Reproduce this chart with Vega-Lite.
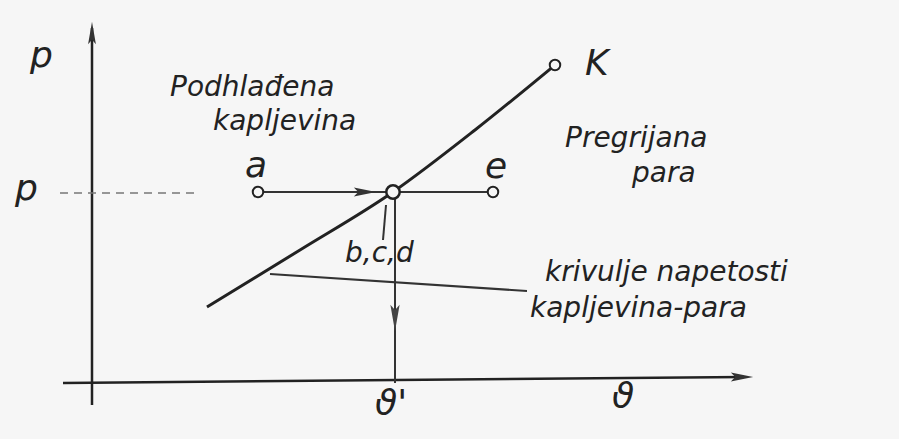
{
  "$schema": "https://vega.github.io/schema/vega-lite/v6.json",
  "width": 899,
  "height": 439,
  "autosize": {"type": "fit", "contains": "padding"},
  "padding": 0,
  "background": "#f6f6f6",
  "config": {"view": {"stroke": null}},
  "datasets": {
    "axes": [
      {"x": 0, "y": -22, "x2": 0, "y2": 355},
      {"x": -29, "y": 0, "x2": 652, "y2": 6}
    ],
    "segments": [
      {"x": 166, "y": 191, "x2": 401, "y2": 191},
      {"x": 303, "y": 191, "x2": 303, "y2": 0},
      {"x": 294, "y": 178, "x2": 291, "y2": 143},
      {"x": 178, "y": 109, "x2": 435, "y2": 92}
    ],
    "dashed": [
      {"x": -32, "y": 190, "x2": 103, "y2": 190}
    ],
    "curve": [
      {"x": 115, "y": 76},
      {"x": 208, "y": 133},
      {"x": 301, "y": 191},
      {"x": 383, "y": 253},
      {"x": 463, "y": 318}
    ],
    "states": [
      {"state": "a", "x": 166, "y": 191},
      {"state": "e", "x": 401, "y": 191},
      {"state": "K", "x": 463, "y": 318}
    ],
    "centre": [
      {"state": "b,c,d", "x": 301, "y": 191}
    ],
    "arrowsRight": [
      {"x": 273, "y": 191},
      {"x": 650, "y": 6}
    ],
    "arrowsUp": [
      {"x": 0, "y": 350}
    ],
    "arrowsDown": [
      {"x": 303, "y": 65}
    ],
    "bigLabels": [
      {"label": "p", "x": -62, "y": 316},
      {"label": "p", "x": -77, "y": 183},
      {"label": "K", "x": 493, "y": 308},
      {"label": "a", "x": 153, "y": 206},
      {"label": "e", "x": 393, "y": 205},
      {"label": "ϑ'", "x": 283, "y": -32},
      {"label": "ϑ", "x": 520, "y": -25}
    ],
    "labels": [
      {"label": "Podhlađena", "x": 78, "y": 287},
      {"label": "kapljevina", "x": 121, "y": 253},
      {"label": "Pregrijana", "x": 473, "y": 236},
      {"label": "para", "x": 540, "y": 201},
      {"label": "b,c,d", "x": 253, "y": 121},
      {"label": "krivulje napetosti", "x": 453, "y": 102},
      {"label": "kapljevina-para", "x": 438, "y": 66}
    ]
  },
  "encoding": {
    "x": {"field": "x", "type": "quantitative", "scale": {"domain": [-92, 807], "nice": false, "zero": false}, "axis": null},
    "y": {"field": "y", "type": "quantitative", "scale": {"domain": [-56, 383], "nice": false, "zero": false}, "axis": null}
  },
  "layer": [
    {
      "data": {"name": "axes"},
      "mark": {"type": "rule", "color": "#222", "strokeWidth": 2.5},
      "encoding": {"x2": {"field": "x2"}, "y2": {"field": "y2"}}
    },
    {
      "data": {"name": "segments"},
      "mark": {"type": "rule", "color": "#333", "strokeWidth": 2},
      "encoding": {"x2": {"field": "x2"}, "y2": {"field": "y2"}}
    },
    {
      "data": {"name": "dashed"},
      "mark": {"type": "rule", "color": "#777", "strokeWidth": 1.5, "strokeDash": [8, 6]},
      "encoding": {"x2": {"field": "x2"}, "y2": {"field": "y2"}}
    },
    {
      "data": {"name": "curve"},
      "mark": {"type": "line", "color": "#222", "strokeWidth": 3, "interpolate": "monotone"},
      "encoding": {"order": {"field": "x", "type": "quantitative"}}
    },
    {
      "data": {"name": "arrowsRight"},
      "mark": {"type": "point", "shape": "M-1,-0.4L1,0L-1,0.4L-0.6,0Z", "filled": true, "color": "#333", "size": 500, "opacity": 1}
    },
    {
      "data": {"name": "arrowsUp"},
      "mark": {"type": "point", "shape": "M-0.35,1L0,-1L0.35,1L0,0.6Z", "filled": true, "color": "#333", "size": 500, "opacity": 1}
    },
    {
      "data": {"name": "arrowsDown"},
      "mark": {"type": "point", "shape": "M-0.35,-1L0,1L0.35,-1L0,-0.6Z", "filled": true, "color": "#444", "size": 700, "opacity": 1}
    },
    {
      "data": {"name": "states"},
      "mark": {"type": "point", "shape": "circle", "filled": true, "fill": "#f6f6f6", "stroke": "#222", "strokeWidth": 2, "size": 110, "opacity": 1}
    },
    {
      "data": {"name": "centre"},
      "mark": {"type": "point", "shape": "circle", "filled": true, "fill": "#f6f6f6", "stroke": "#222", "strokeWidth": 2.5, "size": 180, "opacity": 1}
    },
    {
      "data": {"name": "bigLabels"},
      "mark": {"type": "text", "align": "left", "baseline": "alphabetic", "font": "DejaVu Sans", "fontStyle": "italic", "fontSize": 36, "color": "#222"},
      "encoding": {"text": {"field": "label"}}
    },
    {
      "data": {"name": "labels"},
      "mark": {"type": "text", "align": "left", "baseline": "alphabetic", "font": "DejaVu Sans", "fontStyle": "italic", "fontSize": 28, "color": "#222"},
      "encoding": {"text": {"field": "label"}}
    }
  ]
}
